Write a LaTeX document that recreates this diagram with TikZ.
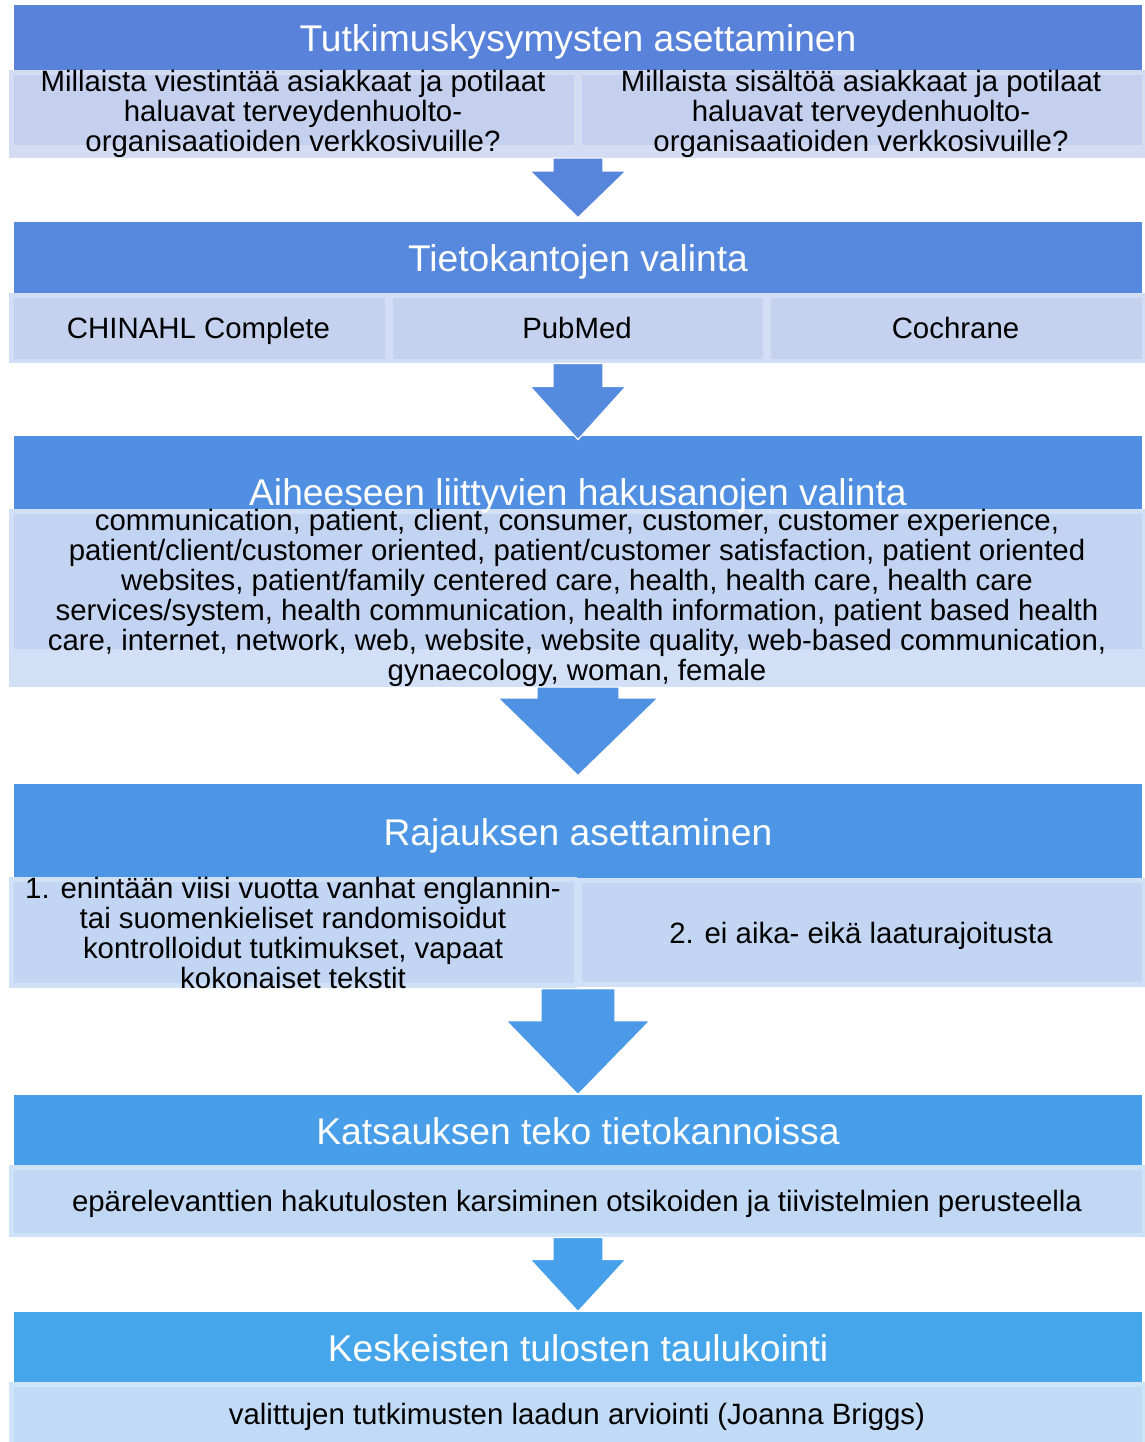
\documentclass[tikz,border=0pt]{standalone}
\usepackage{fontspec}
\setmainfont{Liberation Sans}
\usetikzlibrary{calc}

\definecolor{head1}{RGB}{89,130,218}
\definecolor{head2}{RGB}{86,136,221}
\definecolor{head3}{RGB}{80,143,225}
\definecolor{head4}{RGB}{76,150,229}
\definecolor{head5}{RGB}{72,158,233}
\definecolor{head6}{RGB}{69,166,236}
\definecolor{arrow1}{RGB}{87,133,220}
\definecolor{arrow2}{RGB}{84,139,223}
\definecolor{arrow3}{RGB}{79,146,227}
\definecolor{arrow4}{RGB}{75,153,231}
\definecolor{arrow5}{RGB}{71,161,234}
\definecolor{fill1}{RGB}{197,207,238}
\definecolor{fill2}{RGB}{196,210,240}
\definecolor{fill3}{RGB}{195,212,242}
\definecolor{fill4}{RGB}{194,214,243}
\definecolor{fill5}{RGB}{193,216,244}
\definecolor{fill6}{RGB}{193,218,245}
\definecolor{frame1}{RGB}{212,220,244}
\definecolor{frame2}{RGB}{210,222,246}
\definecolor{frame3}{RGB}{209,223,247}
\definecolor{frame4}{RGB}{208,225,247}
\definecolor{frame5}{RGB}{207,227,248}
\definecolor{frame6}{RGB}{206,228,249}

\begin{document}
\begin{tikzpicture}[%
        x = 0.5pt,
        y = -0.5pt,
        line join = miter,
        header/.style 2 args = {%
            rectangle,
            fill = #1,
            text = white,
            inner sep = 0pt,
            minimum width = 564pt,
            minimum height = #2,
            text height = 14pt,
            text depth = 0pt,
            font = \fontsize{18.6}{22}\selectfont
        },
        headtext/.style = {%
            text = white,
            inner sep = 0pt,
            text height = 14pt,
            text depth = 0pt,
            font = \fontsize{18.6}{22}\selectfont
        },
        subbox/.style n args = {3}{%
            rectangle,
            fill = #1,
            inner sep = 0pt,
            align = center,
            font = \fontsize{14.7}{15}\selectfont,
            path picture = {%
                \fill[#2] ([shift={(2.5pt,-2.5pt)}]path picture bounding box.north west)
                    rectangle ([shift={(-1.5pt,#3)}]path picture bounding box.south east);
            }
        },
        oneline/.style = {%
            text height = 10.5pt,
            text depth = 0pt
        }
    ]

        % Fix the page size.
        \useasboundingbox (0, 0) rectangle (1145, 1442);
        \fill[white] (0, 0) rectangle (1145, 1442);

        % Step 1: research questions.
        \node[header = {head1}{32.5pt}] at (578, 37.5) (h1) {Tutkimuskysymysten asettaminen};
        \node[subbox = {frame1}{fill1}{6.5pt}, minimum width = 284pt, minimum height = 43pt]
            at (293, 114) (s1a)
            {Millaista viestintää asiakkaat ja potilaat\\haluavat terveydenhuolto-\\organisaatioiden verkkosivuille?};
        \node[subbox = {frame1}{fill1}{6.5pt}, minimum width = 284pt, minimum height = 43pt]
            at (861, 114) (s1b)
            {Millaista sisältöä asiakkaat ja potilaat\\haluavat terveydenhuolto-\\organisaatioiden verkkosivuille?};

        % Step 2: databases.
        \node[header = {head2}{35.5pt}] at (578, 257.5) (h2) {Tietokantojen valinta};
        \node[subbox = {frame2}{fill2}{2pt}, oneline, minimum width = 189.5pt, minimum height = 35pt]
            at (198.5, 328) (s2a) {CHINAHL Complete};
        \node[subbox = {frame2}{fill2}{2pt}, oneline, minimum width = 189pt, minimum height = 35pt]
            at (577, 328) (s2b) {PubMed};
        \node[subbox = {frame2}{fill2}{2pt}, oneline, minimum width = 189.5pt, minimum height = 35pt]
            at (955.5, 328) (s2c) {Cochrane};

        % Step 3: search terms.
        \node[header = {head3}{36.5pt}] at (578, 472.5) (h3) {};
        \node[subbox = {frame3}{fill3}{19pt}, minimum width = 568pt, minimum height = 88pt]
            at (577, 598) (s3)
            {communication, patient, client, consumer, customer, customer experience,\\
             patient/client/customer oriented, patient/customer satisfaction, patient oriented\\
             websites, patient/family centered care, health, health care, health care\\
             services/system, health communication, health information, patient based health\\
             care, internet, network, web, website, website quality, web-based communication,\\
             gynaecology, woman, female};
        \node[headtext] at (578, 491) (t3) {Aiheeseen liittyvien hakusanojen valinta};

        % Step 4: limits.
        \node[header = {head4}{47pt}] at (578, 831) (h4) {Rajauksen asettaminen};
        \node[subbox = {frame4}{fill4}{2.5pt}, minimum width = 284pt, minimum height = 54.5pt]
            at (293, 932.5) (s4a)
            {1. enintään viisi vuotta vanhat englannin-\\tai suomenkieliset randomisoidut\\kontrolloidut tutkimukset, vapaat\\kokonaiset tekstit};
        \node[subbox = {frame4}{fill4}{2.5pt}, oneline, minimum width = 284pt, minimum height = 54.5pt]
            at (861, 932.5) (s4b) {2. ei aika- eikä laaturajoitusta};

        % Step 5: screening.
        \node[header = {head5}{35pt}] at (578, 1130) (h5) {Katsauksen teko tietokannoissa};
        \node[subbox = {frame5}{fill5}{2pt}, oneline, minimum width = 568pt, minimum height = 36pt]
            at (577, 1201) (s5)
            {epärelevanttien hakutulosten karsiminen otsikoiden ja tiivistelmien perusteella};

        % Step 6: tabulation.
        \node[header = {head6}{35pt}] at (578, 1347) (h6) {Keskeisten tulosten taulukointi};
        \node[subbox = {frame6}{fill6}{2pt}, oneline, minimum width = 568pt, minimum height = 32pt]
            at (577, 1414) (s6)
            {valittujen tutkimusten laadun arviointi (Joanna Briggs)};

        % Block arrows between the steps.
        \foreach \from/\to/\shaft/\head/\neck/\tip/\col in {%
                s1a/h2/25/48/13/2pt/arrow1,
                s2b/h3/25/48/23/-2pt/arrow2,
                s3/h4/41/80/11/4pt/arrow3,
                s4a/h5/37/72/32/0pt/arrow4,
                s5/h6/25/48/22/0pt/arrow5} {
            \coordinate (base) at (\to.north |- \from.south);
            \fill[\col, draw = white, line width = 0.6pt]
                ($(base) + (-\shaft, 0)$) -- ($(base) + (-\shaft, \neck)$)
                -- ($(base) + (-\head, \neck)$) -- ([yshift = \tip]\to.north)
                -- ($(base) + (\head, \neck)$) -- ($(base) + (\shaft, \neck)$)
                -- ($(base) + (\shaft, 0)$) -- cycle;
        }
    \end{tikzpicture}
\end{document}
